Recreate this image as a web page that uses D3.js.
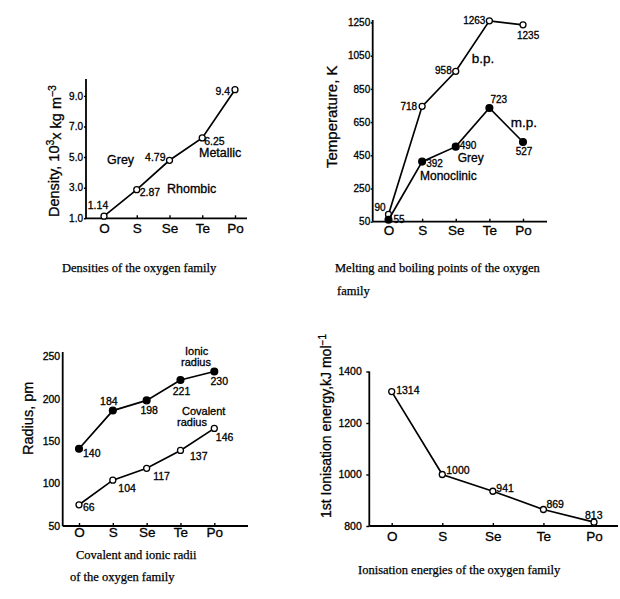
<!DOCTYPE html>
<html><head><meta charset="utf-8">
<script src="https://cdn.jsdelivr.net/npm/d3@7"></script>
<style>
body{margin:0;background:#fff;}
svg{display:block;background:#fff;}
</style></head><body>
<svg id="c" width="620" height="599"></svg>
<script>
// ---------- data ----------
const elements = ["O", "S", "Se", "Te", "Po"];

// Densities
const densityTicks = [1.0, 3.0, 5.0, 7.0, 9.0];
const densityValues = [1.14, 2.87, 4.79, 6.25, 9.4];
const densityLabels = ["1.14", "2.87", "4.79", "6.25", "9.4"];

// Melting / boiling points
const tempTicks = [50, 250, 450, 650, 850, 1050, 1250];
const boilingValues = [94, 745, 956, 1260, 1236];
const boilingLabels = ["90", "718", "958", "1263", "1235"];
const meltingValues = [62, 412, 502, 735, 530];
const meltingLabels = ["55", "392", "490", "723", "527"];

// Radii
const radiusTicks = [50, 100, 150, 200, 250];
const ionicValues = [141, 186, 198, 222, 232];
const ionicLabels = ["140", "184", "198", "221", "230"];
const covalentValues = [75, 104, 118, 139, 165];
const covalentLabels = ["66", "104", "117", "137", "146"];

// Ionisation energies
const ieTicks = [800, 1000, 1200, 1400];
const ieValues = [1322, 1000, 935, 864, 815];
const ieLabels = ["1314", "1000", "941", "869", "813"];

// ---------- drawing ----------
const SANS = '"Liberation Sans", Arial, Helvetica, sans-serif';
const SERIF = '"Liberation Serif", "Times New Roman", serif';
const svg = d3.select("#c");

function txt(g, x, y, s, size, opts = {}) {
  return g.append("text").attr("x", x).attr("y", y)
    .attr("font-family", opts.family || SANS).attr("font-size", size)
    .attr("text-anchor", opts.anchor || "start")
    .attr("fill", "#000").attr("stroke", "#000").attr("stroke-width", opts.sw == null ? 0.3 : opts.sw)
    .text(s);
}

function panel(cfg) {
  const g = svg.append("g");
  const x = d3.scalePoint().domain(elements).range(cfg.pointRange);
  const y = d3.scaleLinear().domain(cfg.yDomain).range(cfg.yRange);

  // y axis ticks
  const ya = g.append("g").attr("transform", `translate(${cfg.axisX},0)`)
    .call(d3.axisLeft(y).tickValues(cfg.yTicks).tickFormat(cfg.yFormat)
      .tickSize(cfg.yTickSize).tickPadding(cfg.yPad).tickSizeOuter(0));
  ya.select(".domain").remove();
  ya.selectAll("line").attr("stroke", "#000").attr("stroke-width", 1.4);
  ya.selectAll("text").attr("font-family", SANS).attr("font-size", cfg.tickFont)
    .attr("fill", "#000").attr("stroke", "#000").attr("stroke-width", 0.3);

  // x axis ticks
  const xa = g.append("g").attr("transform", `translate(0,${cfg.yRange[0]})`)
    .call(d3.axisBottom(x).tickSize(-3).tickPadding(cfg.xPad).tickSizeOuter(0));
  xa.select(".domain").remove();
  xa.selectAll("line").attr("stroke", "#000").attr("stroke-width", 1.4);
  xa.selectAll("text").attr("font-family", SANS).attr("font-size", cfg.catFont)
    .attr("fill", "#000").attr("stroke", "#000").attr("stroke-width", 0.3);

  // axis lines
  g.append("line").attr("x1", cfg.axisX).attr("x2", cfg.axisX)
    .attr("y1", cfg.yRange[1]).attr("y2", cfg.yRange[0])
    .attr("stroke", "#000").attr("stroke-width", 1.8);
  g.append("line").attr("x1", cfg.axisX).attr("x2", cfg.axisEnd)
    .attr("y1", cfg.yRange[0]).attr("y2", cfg.yRange[0])
    .attr("stroke", "#000").attr("stroke-width", 1.8);

  // series
  cfg.series.forEach(s => {
    const pts = elements.map((e, i) => [x(e), y(s.values[i])]);
    g.append("path").attr("d", d3.line()(pts))
      .attr("fill", "none").attr("stroke", "#000").attr("stroke-width", 1.7);
    g.selectAll(null).data(pts).enter().append("circle")
      .attr("cx", d => d[0]).attr("cy", d => d[1])
      .attr("r", s.filled ? 3.4 : 3)
      .attr("fill", s.filled ? "#000" : "#fff")
      .attr("stroke", "#000").attr("stroke-width", 1.3);
    s.labels.forEach((lab, i) => {
      const L = s.layout[i];
      txt(g, pts[i][0] + L[0], pts[i][1] + L[1], lab, cfg.labelFont, { anchor: L[2] });
    });
  });

  // y title
  const t = g.append("text")
    .attr("transform", `translate(${cfg.titlePos[0]},${cfg.titlePos[1]}) rotate(-90)`)
    .attr("font-family", SANS).attr("font-size", cfg.titleFont)
    .attr("fill", "#000").attr("stroke", "#000").attr("stroke-width", 0.3)
    .attr("text-anchor", "start");
  cfg.title.forEach(part => {
    const ts = t.append("tspan").text(part.t);
    if (part.sup) ts.attr("dy", "-0.45em").attr("font-size", cfg.titleFont * 0.72);
    if (part.back) ts.attr("dy", "0.45em");
  });

  // annotations
  (cfg.notes || []).forEach(n => txt(g, n[0], n[1], n[2], n[3]));
  return g;
}

// Panel 1: densities
panel({
  axisX: 86, axisEnd: 247,
  pointRange: [104, 235],
  yDomain: [1.0, 10.1], yRange: [218.3, 79],
  yTicks: densityTicks, yFormat: d3.format(".1f"),
  yTickSize: 2, yPad: 1, tickFont: 10,
  xPad: 5, catFont: 13.5, labelFont: 10.5,
  series: [{
    values: densityValues, labels: densityLabels, filled: false,
    layout: [[-6, -7, "middle"], [3, 6, "start"], [-4, 1, "end"], [2, 7, "start"], [-5, 5, "end"]]
  }],
  titlePos: [59, 217], titleFont: 14.5,
  title: [{ t: "Density, 10" }, { t: "3", sup: true }, { t: "x kg m", back: true }, { t: "\u22123", sup: true }],
  notes: [[107, 163.5, "Grey", 12.5], [167, 192.5, "Rhombic", 12.5], [199, 156.5, "Metallic", 12.5]]
});

// Panel 2: melting and boiling points
panel({
  axisX: 372.7, axisEnd: 547,
  pointRange: [388.5, 523],
  yDomain: [50, 1265], yRange: [221.7, 20],
  yTicks: tempTicks, yFormat: d3.format("d"),
  yTickSize: 2, yPad: 0.5, tickFont: 10,
  xPad: 4, catFont: 13.5, labelFont: 10,
  series: [{
    values: boilingValues, labels: boilingLabels, filled: false,
    layout: [[-3, -3, "end"], [-5, 4, "end"], [-4, 3, "end"], [-4, 3, "end"], [-6, 14, "start"]]
  }, {
    values: meltingValues, labels: meltingLabels, filled: true,
    layout: [[5, 3, "start"], [4, 5, "start"], [4, 2.5, "start"], [1, -5, "start"], [1, 12.5, "middle"]]
  }],
  titlePos: [337, 168], titleFont: 15,
  title: [{ t: "Temperature, K" }],
  notes: [[471.7, 63, "b.p.", 13.5], [510.7, 127, "m.p.", 13.5], [457.7, 162, "Grey", 12], [420, 179.5, "Monoclinic", 12]]
});

// Panel 3: radii
panel({
  axisX: 62.7, axisEnd: 248,
  pointRange: [79, 214.3],
  yDomain: [50, 255], yRange: [526, 352],
  yTicks: radiusTicks, yFormat: d3.format("d"),
  yTickSize: 0, yPad: 2.5, tickFont: 10.5,
  xPad: 1.5, catFont: 13.5, labelFont: 10.5,
  series: [{
    values: ionicValues, labels: ionicLabels, filled: true,
    layout: [[4, 8.5, "start"], [-4, -6, "middle"], [2.5, 13.5, "middle"], [1, 14.5, "middle"], [5, 13, "middle"]]
  }, {
    values: covalentValues, labels: covalentLabels, filled: false,
    layout: [[4, 6, "start"], [5.5, 11.5, "start"], [6.5, 11.5, "start"], [9.5, 10, "start"], [1.5, 12.5, "start"]]
  }],
  titlePos: [33, 455], titleFont: 14.5,
  title: [{ t: "Radius, pm" }],
  notes: [[185, 354.5, "Ionic", 11], [181, 365.5, "radius", 11], [182, 414.5, "Covalent", 11], [177, 425.5, "radius", 11]]
});

// Panel 4: ionisation energies
panel({
  axisX: 369.3, axisEnd: 618,
  pointRange: [391.7, 594],
  yDomain: [800, 1400], yRange: [526, 371.5],
  yTicks: ieTicks, yFormat: d3.format("d"),
  yTickSize: 3, yPad: 4.5, tickFont: 10.5,
  xPad: 5.5, catFont: 13.5, labelFont: 10.5,
  series: [{
    values: ieValues, labels: ieLabels, filled: false,
    layout: [[4.5, 2.5, "start"], [4, -0.5, "start"], [3.5, 0.6, "start"], [3, -1.5, "start"], [-9, -3.4, "start"]]
  }],
  titlePos: [331, 518], titleFont: 14,
  title: [{ t: "1st Ionisation energy,kJ mol" }, { t: "\u22121", sup: true }]
});

// captions
const cap = svg.append("g");
txt(cap, 62, 272, "Densities of the oxygen family", 12.5, { family: SERIF, sw: 0.25 });
txt(cap, 335, 272, "Melting and boiling points of the oxygen", 12.5, { family: SERIF, sw: 0.25 });
txt(cap, 337, 295, "family", 12.5, { family: SERIF, sw: 0.25 });
txt(cap, 76, 559, "Covalent and ionic radii", 12.5, { family: SERIF, sw: 0.25 });
txt(cap, 70, 581, "of the oxygen family", 12.5, { family: SERIF, sw: 0.25 });
txt(cap, 358, 574, "Ionisation energies of the oxygen family", 12.5, { family: SERIF, sw: 0.25 });
</script>
</body></html>
